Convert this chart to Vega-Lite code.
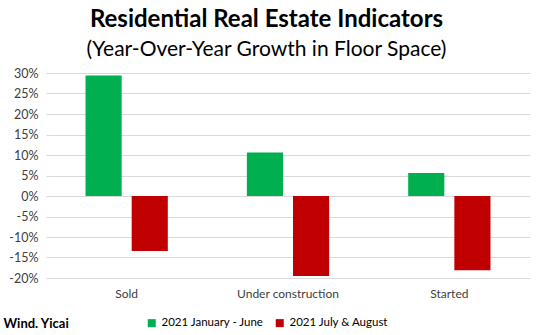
{
  "$schema": "https://vega.github.io/schema/vega-lite/v6.json",
  "width": 484,
  "height": 205,
  "autosize": "none",
  "padding": {"left": 46, "top": 73, "right": 11, "bottom": 57},
  "background": "white",
  "config": {"font": "Lato", "view": {"stroke": null}},
  "title": {
    "text": "Residential Real Estate Indicators",
    "subtitle": "(Year-Over-Year Growth in Floor Space)",
    "anchor": "middle",
    "frame": "bounds",
    "font": "Lato",
    "fontSize": 24,
    "fontWeight": "bold",
    "color": "#000000",
    "subtitleFont": "Lato",
    "subtitleFontSize": 21,
    "subtitleColor": "#000000",
    "subtitlePadding": 7,
    "offset": 7
  },
  "data": {
    "values": [
      {"category": "Sold", "series": "2021 January - June", "value": 0.294},
      {"category": "Sold", "series": "2021 July & August", "value": -0.134},
      {"category": "Under construction", "series": "2021 January - June", "value": 0.106},
      {"category": "Under construction", "series": "2021 July & August", "value": -0.195},
      {"category": "Started", "series": "2021 January - June", "value": 0.056},
      {"category": "Started", "series": "2021 July & August", "value": -0.181}
    ]
  },
  "mark": {"type": "bar"},
  "encoding": {
    "x": {
      "field": "category",
      "type": "nominal",
      "sort": ["Sold", "Under construction", "Started"],
      "scale": {"paddingInner": 0.49, "paddingOuter": 0.245},
      "axis": {
        "title": "Wind. Yicai",
        "titleFont": "Lato",
        "titleFontSize": 13,
        "titleFontWeight": "bold",
        "titleColor": "#000000",
        "titleAnchor": "start",
        "titleAlign": "left",
        "titleBaseline": "middle",
        "titleX": -43,
        "titleY": 45,
        "labelAngle": 0,
        "labelFontSize": 12,
        "labelColor": "#404040",
        "labelPadding": 10,
        "ticks": false,
        "domain": false,
        "grid": false
      }
    },
    "xOffset": {
      "field": "series",
      "type": "nominal",
      "scale": {"paddingInner": 0.217, "paddingOuter": 0}
    },
    "y": {
      "field": "value",
      "type": "quantitative",
      "scale": {"domain": [-0.2, 0.3], "nice": false},
      "axis": {
        "title": null,
        "values": [-0.2, -0.15, -0.1, -0.05, 0, 0.05, 0.1, 0.15, 0.2, 0.25, 0.3],
        "labelExpr": "replace(format(datum.value, '.0%'), '\u2212', '-')",
        "labelFontSize": 12.5,
        "labelColor": "#404040",
        "labelPadding": 8,
        "ticks": false,
        "domain": false,
        "gridColor": "#d9d9d9",
        "gridWidth": 1,
        "gridOpacity": 1
      }
    },
    "color": {
      "field": "series",
      "type": "nominal",
      "scale": {"domain": ["2021 January - June", "2021 July & August"], "range": ["#00B050", "#C00000"]},
      "legend": {
        "title": null,
        "orient": "none",
        "direction": "horizontal",
        "legendX": 100,
        "legendY": 244,
        "symbolType": "square",
        "symbolSize": 64,
        "symbolStrokeWidth": 0,
        "labelFontSize": 11.5,
        "labelColor": "#000000",
        "columnPadding": 10
      }
    }
  }
}
